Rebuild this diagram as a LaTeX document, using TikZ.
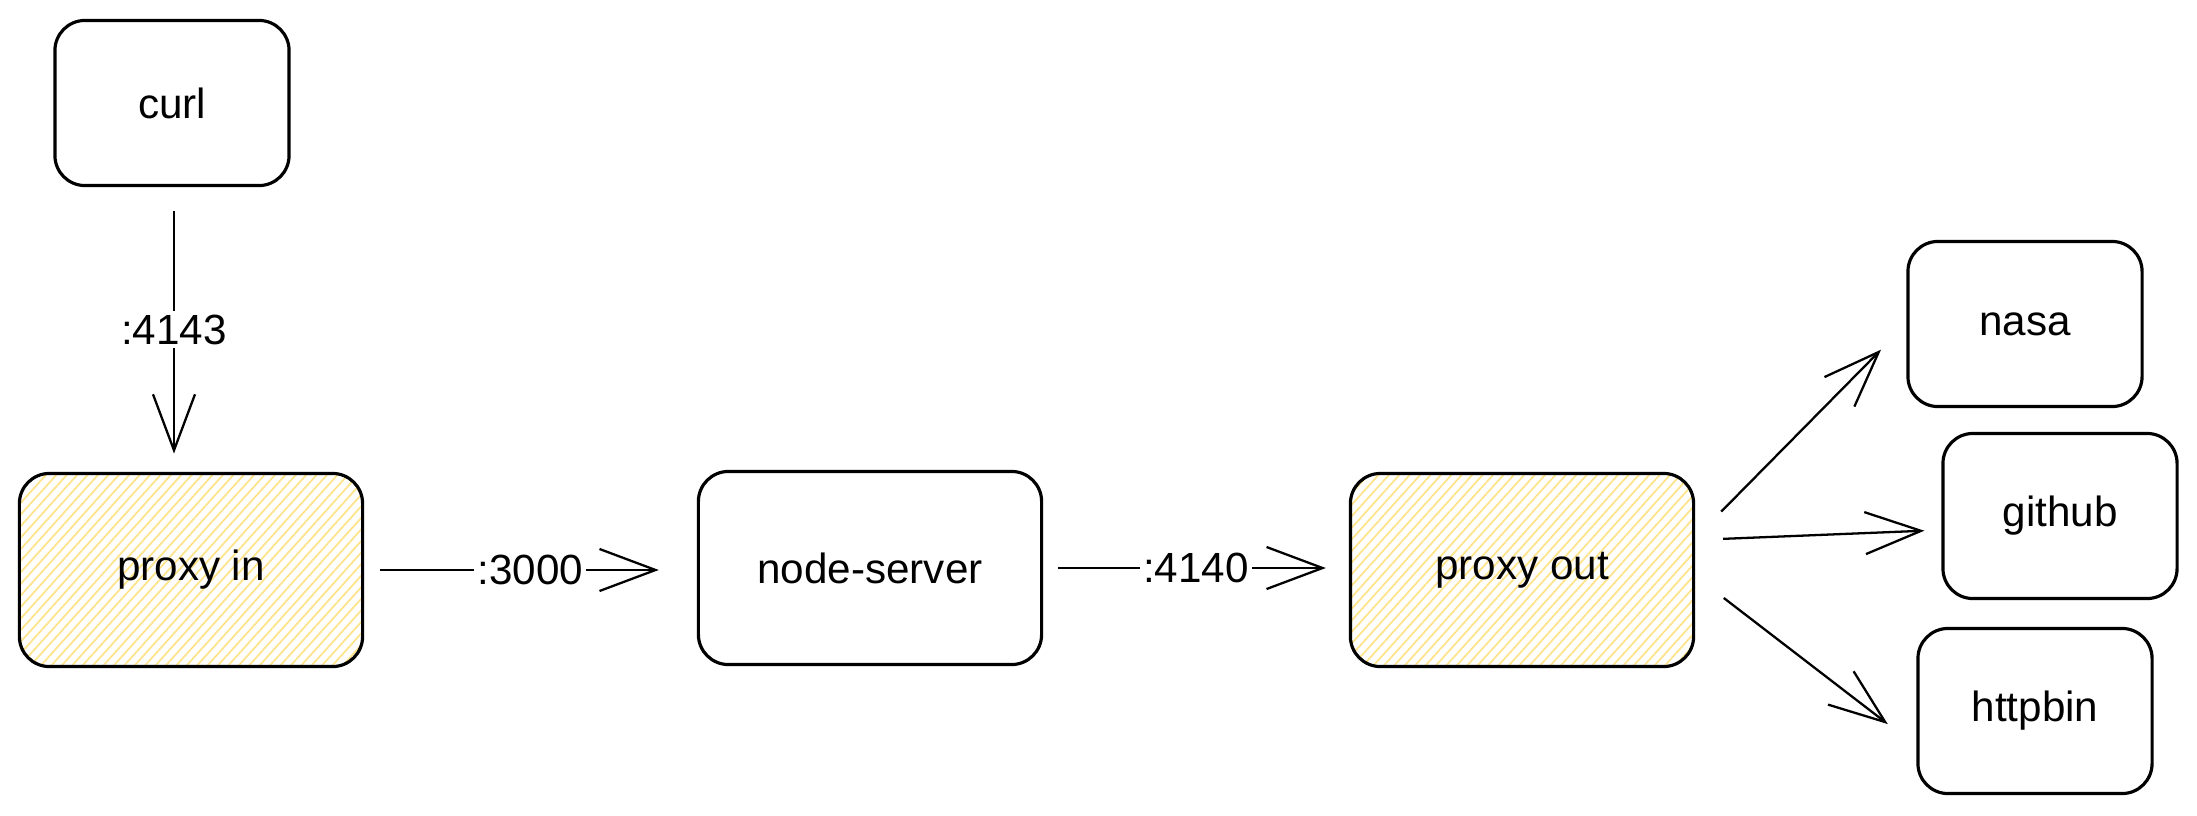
\documentclass[tikz,border=0pt]{standalone}
\usepackage{fontspec}
\setmainfont{Liberation Sans}
\usetikzlibrary{arrows.meta,patterns.meta}
\definecolor{hatch}{HTML}{FFE38A}

\begin{document}
\begin{tikzpicture}[x=0.01cm, y=-0.01cm,
    box/.style={draw, line width=0.9pt, rounded corners=0.3cm, inner sep=0pt,
      font=\fontsize{12}{14}\selectfont},
    small/.style={box, minimum width=2.34cm, minimum height=1.65cm},
    big/.style={box, minimum width=3.43cm, minimum height=1.93cm},
    hatched/.style={pattern={Lines[angle=48,distance=2.2pt,line width=0.5pt]}, pattern color=hatch},
    arr/.style={line width=0.65pt, -{Straight Barb[length=0.56cm, width=0.42cm, line width=0.65pt]}},
    port/.style={fill=white, inner sep=1pt, font=\fontsize{12}{14}\selectfont}]
  \useasboundingbox (0,0) rectangle (2197,815);

  \node[small] (curl) at (172,103) {curl};
  \node[big, hatched] (proxyin) at (191,570) {proxy in};
  \node[big] (nodeserver) at (870,568) {node-server};
  \node[big, hatched] (proxyout) at (1522,570) {proxy out};

  \node[small] (nasa) at (2025,324) {nasa};
  \node[small] (github) at (2060,516) {github};
  \node[small] (httpbin) at (2035,711) {httpbin};

  % ports
  \draw[arr, shorten <=0.24cm, shorten >=0.19cm] ([xshift=0.02cm]curl.south)
    -- node[port]{:4143} ([xshift=0.02cm]curl.south |- proxyin.north);
  \draw[arr, shorten <=0.17cm, shorten >=0.38cm] (proxyin.east) -- node[port]{:3000} (proxyin.east -| nodeserver.west);
  \draw[arr, shorten <=0.15cm, shorten >=0.23cm] (nodeserver.east) -- node[port]{:4140} (nodeserver.east -| proxyout.west);

  % upstreams
  \draw[arr, shorten <=0.37cm, shorten >=0.36cm] ([yshift=0.32cm]proxyout.east) -- (nasa.west);
  \draw[arr, shorten <=0.28cm, shorten >=0.17cm] ([yshift=0.30cm]proxyout.east) -- ([yshift=-0.14cm]github.west);
  \draw[arr, shorten <=0.36cm, shorten >=0.36cm] ([yshift=-0.06cm]proxyout.east) -- ([yshift=-0.35cm]httpbin.west);

\end{tikzpicture}
\end{document}
